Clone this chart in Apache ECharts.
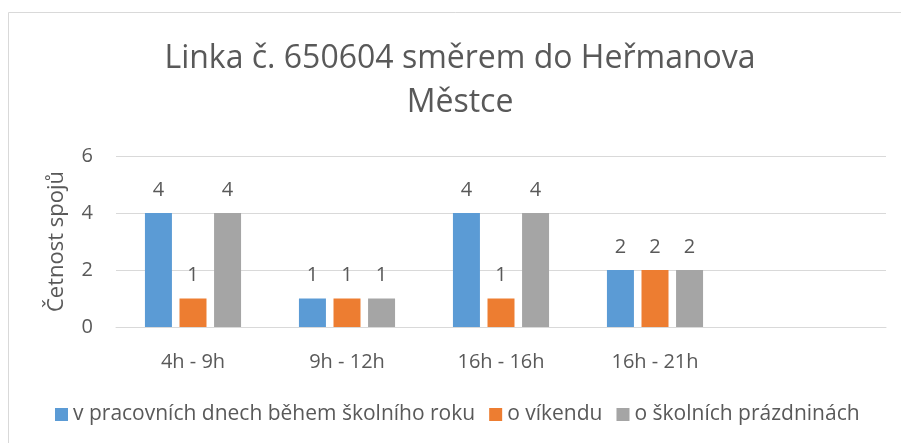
<!DOCTYPE html>
<html>
<head>
<meta charset="utf-8">
<script src="https://cdn.jsdelivr.net/npm/echarts@6/dist/echarts.min.js"></script>
<style>
  html, body { margin: 0; padding: 0; background: #fff; }
  #chart { width: 901px; height: 443px; }
</style>
</head>
<body>
<div id="chart"></div>
<script>
  // data
  const categories = ['4h - 9h', '9h - 12h', '16h - 16h', '16h - 21h', ''];
  const seriesNames = ['v pracovních dnech během školního roku', 'o víkendu', 'o školních prázdninách'];
  const workdays = [4, 1, 4, 2];
  const weekend = [1, 1, 1, 2];
  const holidays = [4, 1, 4, 2];
  const yTicks = [0, 2, 4, 6];

  const colors = ['#5B9BD5', '#ED7D31', '#A5A5A5'];
  const textColor = '#595959';
  const font = '"Open Sans", sans-serif';

  const chart = echarts.init(document.getElementById('chart'));

  const barLabel = { show: true, position: 'top', distance: 13, color: textColor, fontSize: 20, fontFamily: font };

  const option = {
    animation: false,
    color: colors,
    title: {
      text: 'Linka č. 650604 směrem do Heřmanova\nMěstce',
      left: 460,
      textAlign: 'center',
      top: 37,
      padding: 0,
      textStyle: { color: textColor, fontSize: 32, fontWeight: 'normal', fontFamily: font, lineHeight: 44 }
    },
    legend: {
      data: seriesNames,
      left: 55,
      top: 404,
      padding: 0,
      icon: 'rect',
      itemWidth: 13,
      itemHeight: 13,
      itemGap: 14,
      textStyle: { color: textColor, fontSize: 21, fontFamily: font }
    },
    grid: { left: 116, right: 15, top: 156, bottom: 116 },
    xAxis: {
      type: 'category',
      data: categories,
      axisTick: { show: false },
      axisLine: { lineStyle: { color: '#d9d9d9', width: 1 } },
      axisLabel: { color: textColor, fontSize: 20, fontFamily: font, margin: 25 }
    },
    yAxis: {
      type: 'value',
      min: yTicks[0],
      max: yTicks[yTicks.length - 1],
      interval: 2,
      name: 'Četnost spojů',
      nameLocation: 'middle',
      nameGap: 48,
      nameTextStyle: { color: textColor, fontSize: 22, fontFamily: font },
      axisLine: { show: false },
      axisTick: { show: false },
      axisLabel: { color: textColor, fontSize: 20, fontFamily: font, margin: 23 },
      splitLine: { lineStyle: { color: '#d9d9d9', width: 1 } }
    },
    graphic: [
      {
        type: 'rect',
        silent: true,
        shape: { x: 8.5, y: 12.5, width: 1000, height: 1000 },
        style: { fill: 'none', stroke: '#d9d9d9', lineWidth: 1 }
      }
    ],
    series: [
      { name: seriesNames[0], type: 'bar', data: workdays, barWidth: 27, barGap: '28%', label: barLabel },
      { name: seriesNames[1], type: 'bar', data: weekend, barWidth: 27, barGap: '28%', label: barLabel },
      { name: seriesNames[2], type: 'bar', data: holidays, barWidth: 27, barGap: '28%', label: barLabel }
    ]
  };

  chart.setOption(option);
</script>
</body>
</html>
